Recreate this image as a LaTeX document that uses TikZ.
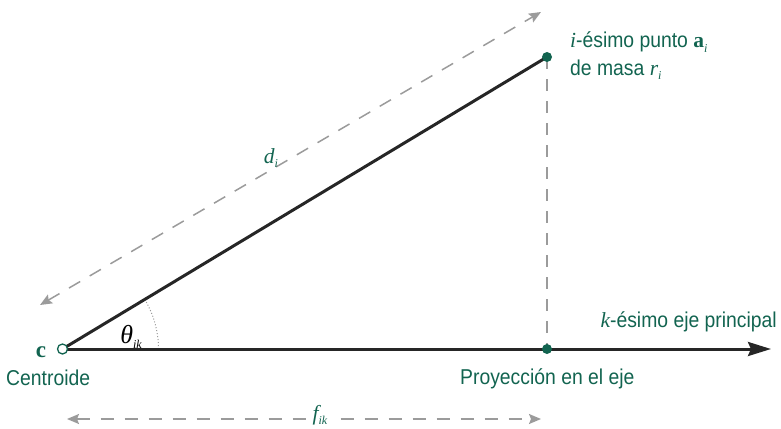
\documentclass[tikz,border=0pt]{standalone}
\usepackage[no-math]{fontspec}
\setmainfont{Liberation Sans}[FakeStretch=0.9]
\newfontfamily\tms{Liberation Serif}
\newcommand\mysub[1]{\raisebox{-0.22em}{\fontsize{12}{12}\selectfont\tms\itshape #1}}
\newcommand\mvar[1]{{\tms\itshape #1}}
\usetikzlibrary{arrows.meta}
\definecolor{dgreen}{RGB}{18,100,80}
\definecolor{dgray}{RGB}{155,155,155}
\begin{document}
\begin{tikzpicture}[x=1pt,y=-1pt,
  lbl/.style={text=dgreen,font=\fontsize{21.5}{26}\selectfont,inner sep=0pt},
  dimarrow/.style={draw=dgray,line width=1.5pt,dash pattern=on 13pt off 11pt,
    {Stealth[length=12pt,width=10pt,inset=2pt]}-{Stealth[length=12pt,width=10pt,inset=2pt]}},
  dot/.style={circle,fill=dgreen,inner sep=0pt,minimum size=10pt},
  odot/.style={circle,draw=dgreen,fill=white,line width=1.3pt,inner sep=0pt,minimum size=10pt}]
\useasboundingbox (0,0) rectangle (781,428);
% key points
\coordinate (C) at (62.5,349);
\coordinate (A) at (547,57);
\coordinate (P) at (547,349);
\coordinate (E) at (771,349);
% projection dashed line
\draw[draw=dgray,line width=1.5pt,dash pattern=on 12pt off 10pt] (A) -- (P);
% angle arc
\draw[dgray,line width=1pt,dotted] (C) ++(0:96) arc[start angle=0,end angle=-31,radius=96];
% main lines
\draw[line width=3pt,black!85] (C) -- (A);
\draw[line width=3pt,black!85,-{Stealth[length=23pt,width=14pt,inset=3pt]}] (C) -- (E);
% nodes
\node[odot] (c) at (C) {};
\node[dot] (a) at (A) {};
\node[dot] (p) at (P) {};
% dimension arrows
\coordinate (d1) at (40,305);
\coordinate (d2) at (541,12);
\draw[dimarrow] (d1) -- (d2);
\coordinate (f1) at (67,419);
\coordinate (f2) at (541,419);
\draw[dimarrow] (f1) -- (f2);
% labels
\node[lbl,anchor=base] (lc) at (41,357) {{\tms\bfseries\fontsize{23}{26}\selectfont c}};
\node[lbl,anchor=base west] (lcent) at (6,385) {Centroide};
\node[lbl,anchor=base west] (lproj) at (460,384) {Proyección en el eje};
\node[lbl,anchor=base west] (la1) at (570,48) {\mvar{i}-ésimo punto {\tms\bfseries a}\mysub{i}};
\node[lbl,anchor=base west] (la2) at (570,75) {de masa \mvar{r}\mysub{i}};
\node[lbl,anchor=base east] (lk) at (777,327) {\mvar{k}-ésimo eje principal};
\node[lbl,anchor=base] (ld) at (271,163) {\mvar{d}\mysub{i}};
\node[lbl,fill=white,inner xsep=6pt,inner ysep=1pt,anchor=base] (lf) at (320,420) {\mvar{f}\mysub{ik}};
\node[inner sep=0pt,anchor=base,font=\fontsize{26}{28}\selectfont] (lt) at (131,343) {\mvar{θ}\mysub{ik}};
\end{tikzpicture}
\end{document}
